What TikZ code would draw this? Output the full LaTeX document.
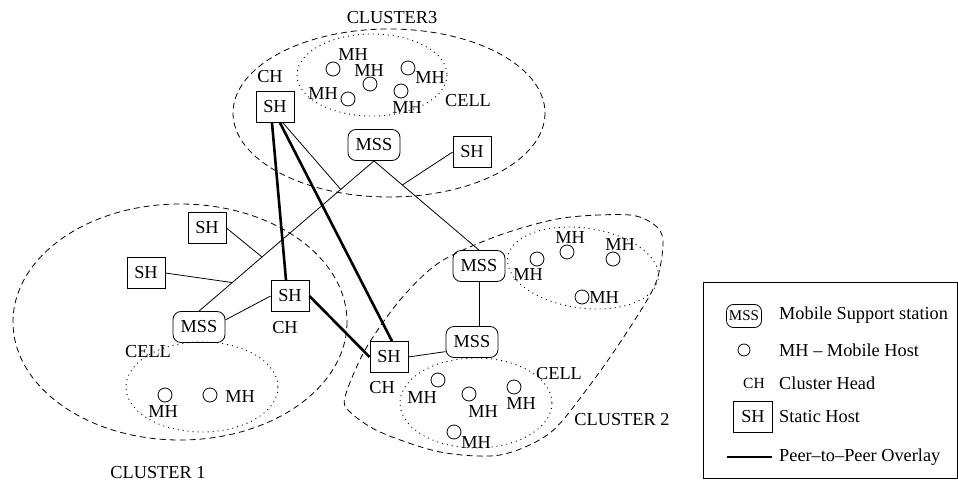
\documentclass[tikz,border=0pt]{standalone}
\usepackage{fontspec}
\setmainfont{Liberation Serif}
\usepackage{tikz}
\usetikzlibrary{calc,positioning,shapes.misc}
\tikzset{every node/.append style={scale=1}}
\tikzset{
    sh/.style={draw, line width=0.8pt, minimum width=38pt, minimum height=31pt, inner sep=0pt},
    mss/.style={draw, line width=0.8pt, rounded corners=8pt, minimum width=52pt, minimum height=31pt, inner sep=0pt},
    mh/.style={draw, circle, line width=0.8pt, minimum size=14pt, inner sep=0pt},
    link/.style={line width=0.8pt},
    p2p/.style={line width=2.6pt},
    cluster/.style={line width=0.8pt, dash pattern=on 6pt off 4pt},
    cell/.style={line width=0.9pt, dash pattern=on 1pt off 4pt}
}

\begin{document}
\begin{tikzpicture}[x=1pt,y=-1pt,font=\fontsize{18.3}{21}\selectfont]
    \useasboundingbox (0,0) rectangle (958,481);

    \draw[cluster] (389,113) ellipse (156 and 84);
    \draw[cluster] (180,322) ellipse (167 and 118);
    \draw[cluster] plot[smooth cycle] coordinates {(345,397) (365,350) (400,300) (440,262) (500,235)
        (563,218) (630,215) (657,227) (663,245) (655,285) (625,335) (590,385) (550,433)
        (500,455) (440,452) (380,432) (350,412)};
    \draw[cell] (372,75) ellipse (75 and 41);
    \draw[cell] (202,387) ellipse (76 and 45);
    \draw[cell,rotate around={-8:(583,268)}] (583,268) ellipse (76 and 40);
    \draw[cell] (476,403) ellipse (76 and 45);

    \node (cluster3) at (392,18) {CLUSTER3};
    \node (cluster1) at (158,473) {CLUSTER 1};
    \node (cluster2) at (622,420) {CLUSTER 2};
    \node (cell3) at (468,101) {CELL};
    \node (cell1) at (148,352) {CELL};
    \node (cell2) at (559,374) {CELL};

    \node[sh] (sh3) at (275,107) {SH};
    \node[sh] (sh3r) at (472,152) {SH};
    \node[sh] (sh1a) at (207,228) {SH};
    \node[sh] (sh1b) at (146,273) {SH};
    \node[sh] (sh1) at (290,296) {SH};
    \node[sh] (sh2) at (389,357) {SH};
    \node[mss] (mss3) at (374,145) {MSS};
    \node[mss] (mss1) at (199,327) {MSS};
    \node[mss] (mss2a) at (479,266) {MSS};
    \node[mss] (mss2b) at (472,342) {MSS};
    \node (ch3) at (270,77) {CH};
    \node (ch1) at (285,328) {CH};
    \node (ch2) at (382,388) {CH};

    \foreach \n/\x/\y in {a/333/69, b/370/84, c/408/68, d/348/99, e/401/91,
        f/165/395, g/210/395,
        h/537/259, i/567/252, j/613/259, k/582/297,
        l/438/380, m/469/394, n/514/387, o/454/432}
        \node[mh] (mh\n) at (\x,\y) {};
    \foreach \n/\x/\y in {a/353/55, b/369/71, c/430/78, d/323/94, e/407/108,
        f/163/412, g/240/397,
        h/528/275, i/570/238, j/620/245, k/604/298,
        l/422/398, m/483/412, n/521/404, o/476/443}
        \node (mhl\n) at (\x,\y) {MH};

    \coordinate (j1) at ($(mss3.south)!0.19!(mss1.north)$);
    \coordinate (j2) at ($(mss3.south)!0.64!(mss1.north)$);
    \coordinate (j3) at ($(mss3.south)!0.81!(mss1.north)$);
    \coordinate (j4) at ($(mss3.south)!0.27!(mss2a.north)$);

    \draw[link] (mss3.south) -- (mss1.north);
    \draw[link] (mss3.south) -- (mss2a.north);
    \draw[link] ([xshift=8pt]sh3.south) -- (j1);
    \draw[link] (sh1a.east) -- (j2);
    \draw[link] (sh1b.east) -- (j3);
    \draw[link] (sh3r.west) -- (j4);
    \draw[link] (mss1.15) -- (sh1.west);
    \draw[link] (sh2.east) -- (mss2b.200);
    \draw[link] (mss2a.south) -- (mss2a.south |- mss2b.north);

    \draw[p2p] ([xshift=-3pt]sh3.south) -- ([xshift=-4pt]sh1.north);
    \draw[p2p] ([xshift=5pt]sh3.south) -- ([xshift=3pt]sh2.north);
    \draw[p2p] (sh1.east) -- (sh2.west);

    \draw[line width=0.8pt] (703,282) rectangle (957.5,478);
    \node[mss,minimum width=35pt,minimum height=23pt,rounded corners=7pt,font=\fontsize{15}{17}\selectfont] (key mss) at (744,316) {MSS};
    \node[mh,minimum size=12pt] (key mh) at (744,350) {};
    \node[font=\fontsize{15.5}{17}\selectfont] (key ch) at (754,383) {CH};
    \node[sh,minimum width=39pt] (key sh) at (753,417) {SH};
    \coordinate (p2p a) at (727,457);
    \coordinate (p2p b) at (772,457);
    \draw[p2p] (p2p a) -- (p2p b);
    \foreach \y/\t in {315/Mobile Support station, 350/MH -- Mobile Host, 383/Cluster Head,
        417/Static Host, 457/Peer--to--Peer Overlay}
        \node[anchor=west,inner sep=0pt] (key \y) at (779,\y) {\t};
\end{tikzpicture}
\end{document}
